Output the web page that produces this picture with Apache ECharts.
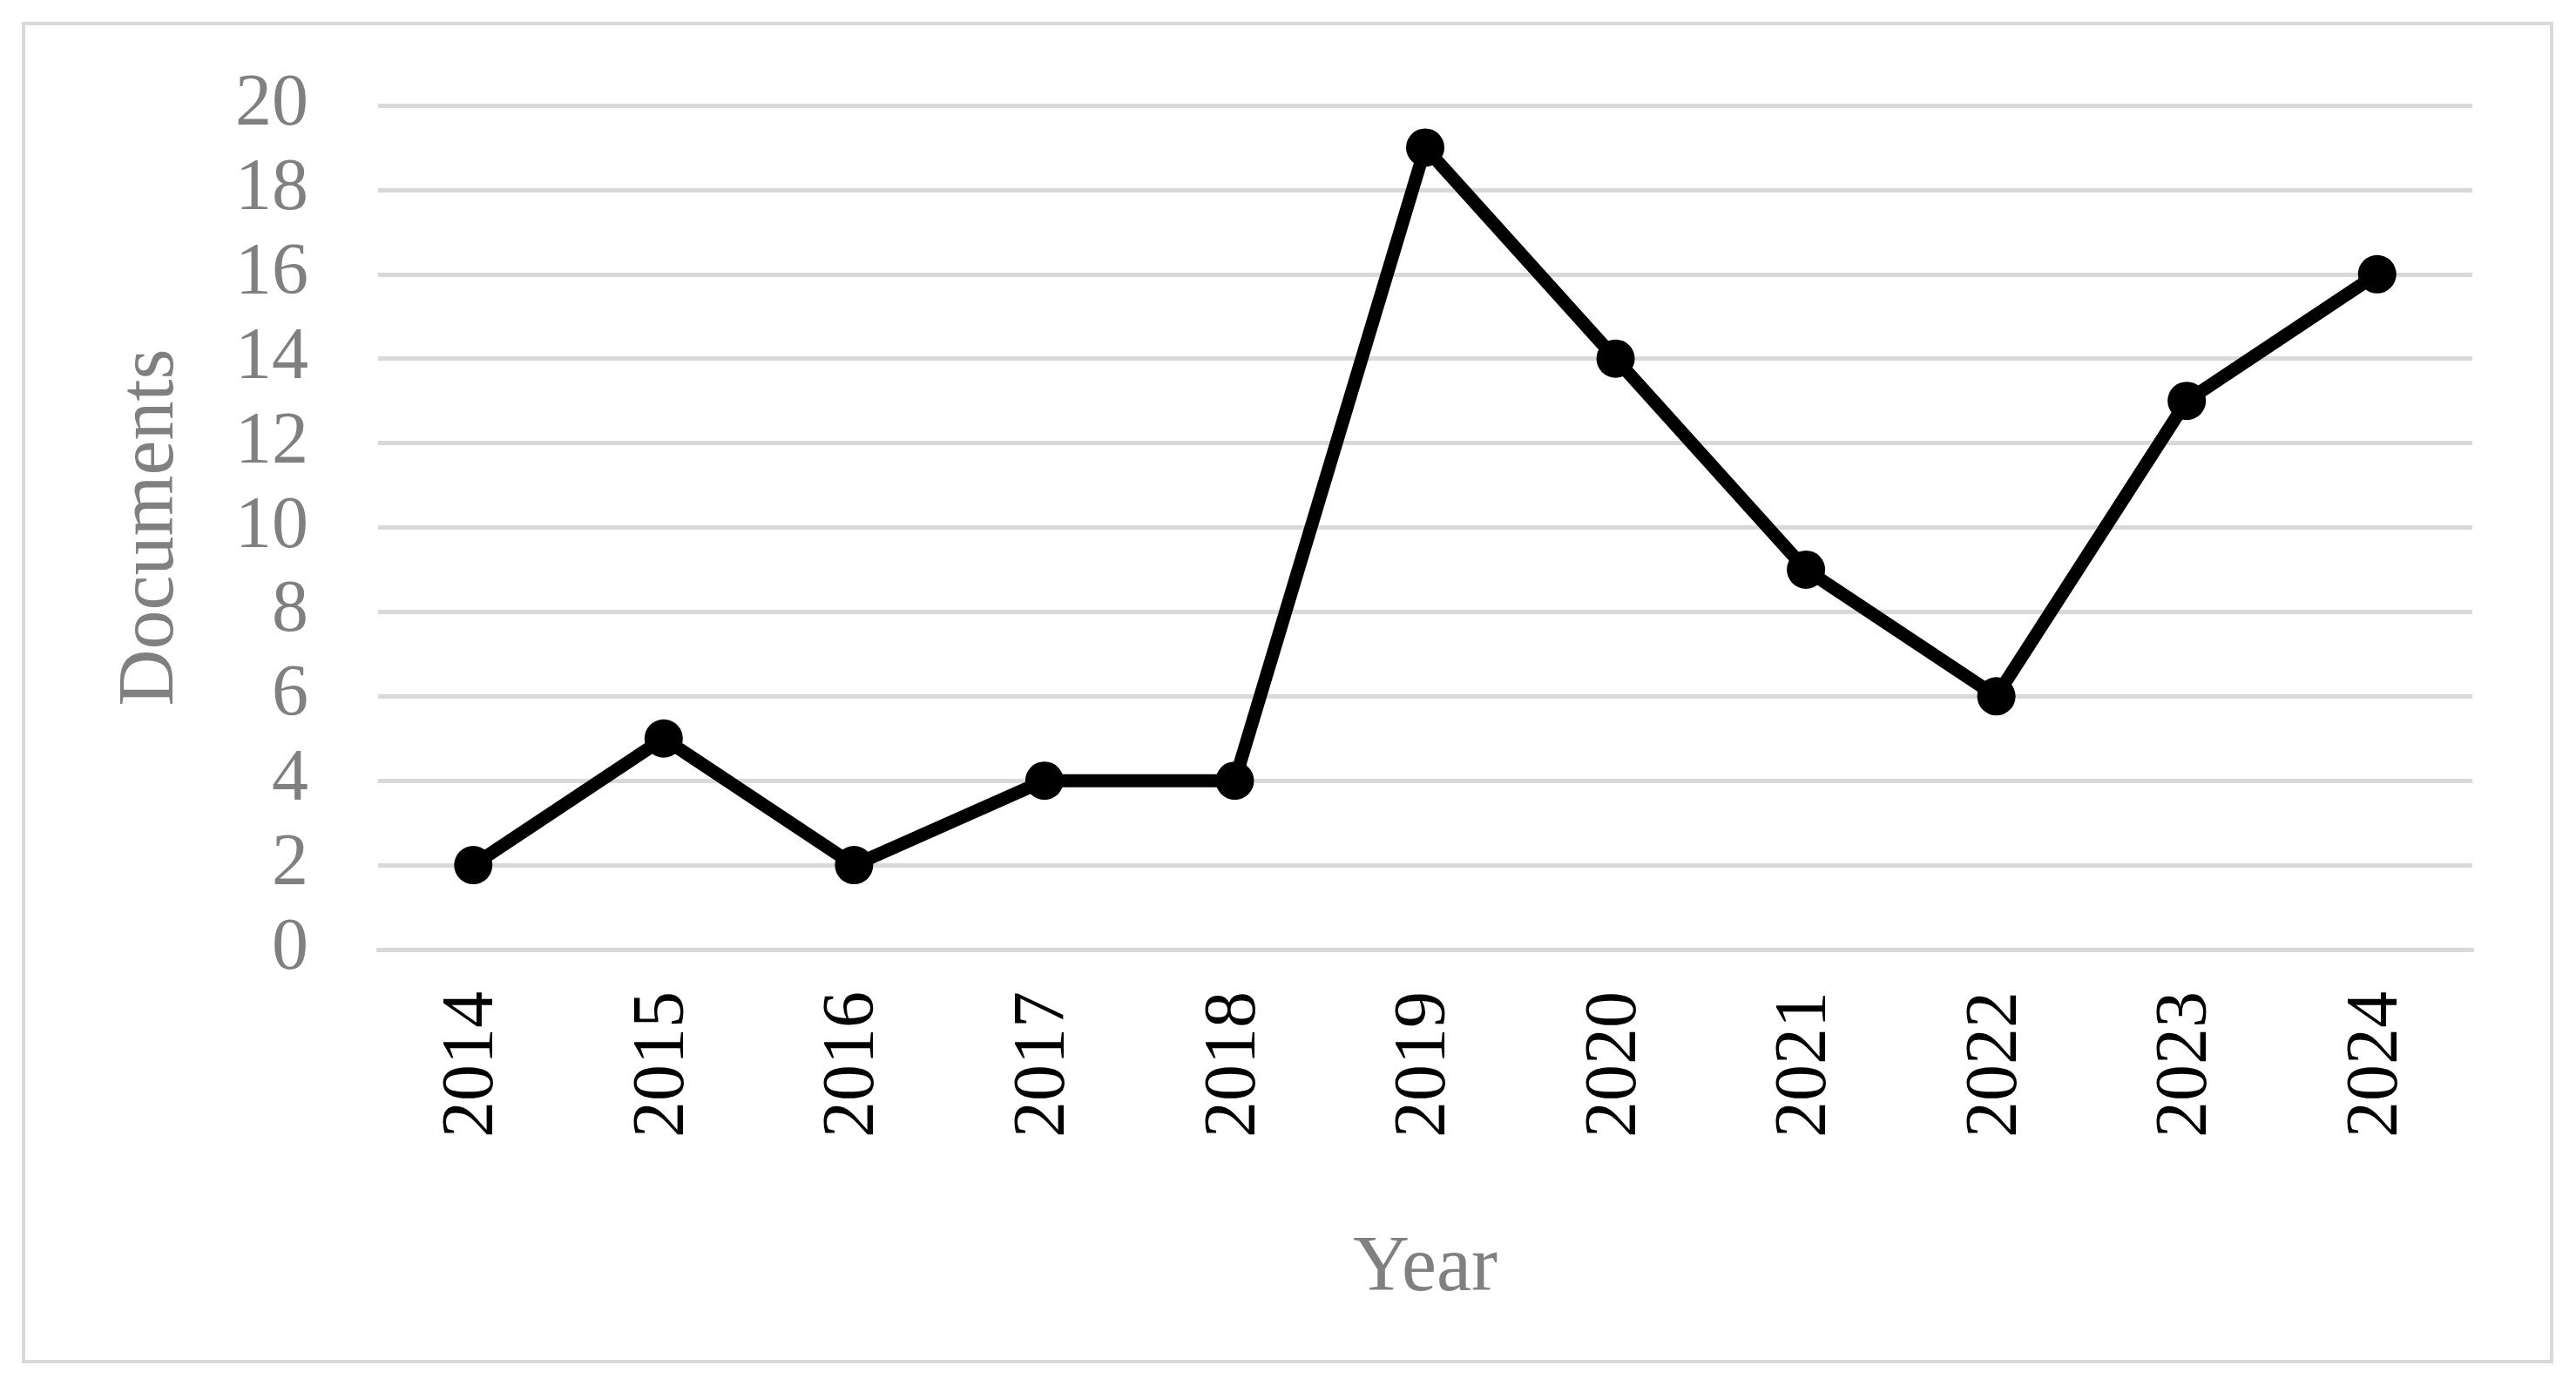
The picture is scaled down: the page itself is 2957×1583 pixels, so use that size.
<!DOCTYPE html>
<html>
<head>
<meta charset="utf-8">
<script src="https://cdn.jsdelivr.net/npm/echarts@6/dist/echarts.min.js"></script>
<style>html,body{margin:0;padding:0;background:#fff}#chart{width:2957px;height:1583px}</style>
</head>
<body>
<div id="chart"></div>
<script>
const years = ['2014','2015','2016','2017','2018','2019','2020','2021','2022','2023','2024'];
const documents = [2, 5, 2, 4, 4, 19, 14, 9, 6, 13, 16];
const yTicks = { min: 0, max: 20, interval: 2 };

const chart = echarts.init(document.getElementById('chart'));
const font = '"Liberation Serif", "Times New Roman", serif';
chart.setOption({
  animation: false,
  graphic: [{
    type: 'rect',
    shape: { x: 27, y: 27, width: 2902, height: 1536 },
    style: { fill: 'none', stroke: '#d9d9d9', lineWidth: 4 }
  }],
  grid: { left: 434, right: 119, top: 121, bottom: 493 },
  xAxis: {
    type: 'category',
    data: years,
    name: 'Year',
    nameLocation: 'middle',
    nameGap: 322,
    nameTextStyle: { fontFamily: font, fontSize: 90, color: '#808080' },
    axisLine: { lineStyle: { color: '#d9d9d9', width: 5 } },
    axisTick: { show: false },
    axisLabel: { rotate: 90, margin: 48, fontFamily: font, fontSize: 84, color: '#000' }
  },
  yAxis: {
    type: 'value',
    min: yTicks.min, max: yTicks.max, interval: yTicks.interval,
    name: 'Documents',
    nameLocation: 'middle',
    nameGap: 215,
    nameTextStyle: { fontFamily: font, fontSize: 90, color: '#808080' },
    axisLine: { show: false },
    axisTick: { show: false },
    splitLine: { lineStyle: { color: '#d9d9d9', width: 5 } },
    axisLabel: { margin: 80, fontFamily: font, fontSize: 84, color: '#808080' }
  },
  series: [{
    type: 'line',
    data: documents,
    symbol: 'circle',
    symbolSize: 44,
    lineStyle: { color: '#000', width: 15 },
    itemStyle: { color: '#000' }
  }]
});
</script>
</body>
</html>
